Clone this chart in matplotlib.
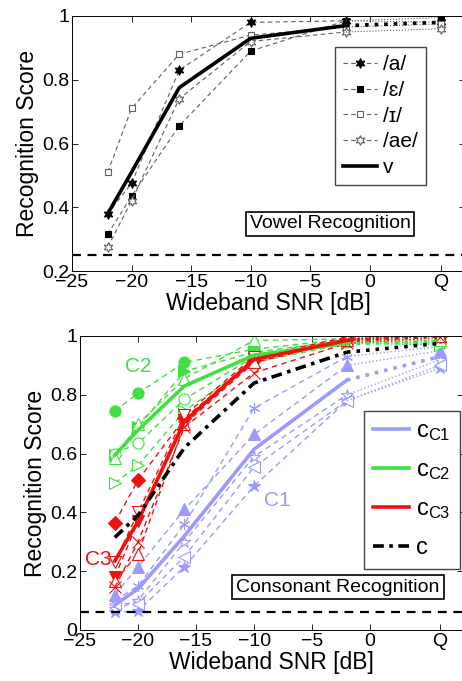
import matplotlib
matplotlib.use("Agg")
import matplotlib.pyplot as plt
from matplotlib.transforms import IdentityTransform

plt.rcParams["font.family"] = ["Liberation Sans", "DejaVu Sans"]
plt.rcParams["mathtext.fontset"] = "custom"
plt.rcParams["mathtext.rm"] = "Liberation Sans"
plt.rcParams["mathtext.it"] = "Liberation Sans:italic"

# SNR conditions, Q (quiet) drawn at +6 dB
snr = [-22, -20, -16, -10, -2, 6]
xtick_pos = [-25, -20, -15, -10, -5, 0, 6]
xtick_labels = ["\u221225", "\u221220", "\u221215", "\u221210", "\u22125", "0", "Q"]

# vowel recognition
vowel_a = [0.38, 0.475, 0.83, 0.98, 0.985, 0.98]
vowel_eh = [0.315, 0.435, 0.655, 0.89, 0.985, 0.995]
vowel_ih = [0.51, 0.71, 0.88, 0.94, 0.965, 0.975]
vowel_ae = [0.275, 0.42, 0.74, 0.92, 0.95, 0.96]
vowel_mean = [0.38, 0.51, 0.775, 0.93, 0.97, 0.98]
vowel_chance = 0.25

# consonant recognition, cluster C1
c1_star = [0.06, 0.065, 0.215, 0.49, 0.78, 0.89]
c1_tri = [0.12, 0.215, 0.41, 0.665, 0.90, 0.95]
c1_ast = [0.10, 0.15, 0.36, 0.755, 0.93, 0.965]
c1_ostar = [0.07, 0.10, 0.30, 0.59, 0.80, 0.92]
c1_otri = [0.09, 0.09, 0.25, 0.555, 0.78, 0.90]
c1_mean = [0.085, 0.14, 0.32, 0.615, 0.85, 0.93]
# cluster C2
c2_circ = [0.745, 0.805, 0.91, 0.955, 0.99, 0.985]
c2_tri = [0.595, 0.69, 0.88, 0.945, 0.985, 0.98]
c2_ocirc = [0.60, 0.635, 0.785, 0.93, 0.98, 0.975]
c2_otri = [0.50, 0.56, 0.745, 0.91, 0.975, 0.97]
c2_otriu = [0.585, 0.70, 0.855, 0.985, 0.99, 0.985]
c2_mean = [0.595, 0.68, 0.83, 0.935, 0.975, 0.98]
# cluster C3
c3_diam = [0.365, 0.51, 0.72, 0.92, 0.99, 1.0]
c3_trid = [0.18, 0.37, 0.715, 0.925, 0.99, 1.0]
c3_otrid = [0.23, 0.40, 0.73, 0.93, 0.995, 1.0]
c3_otriu = [0.165, 0.26, 0.70, 0.91, 0.985, 1.0]
c3_x = [0.145, 0.30, 0.69, 0.875, 0.975, 0.995]
c3_mean = [0.235, 0.37, 0.71, 0.92, 0.985, 1.0]
# all consonants
cons_mean = [0.315, 0.39, 0.62, 0.84, 0.945, 0.975]
cons_chance = 0.0625

BLUE = "#9a9aff"
GREEN = "#40e040"
RED = "#f01010"
HEX = (6, 1, 0)
DASH = (0, (4, 3))


def series(ax, y, color, lw, ls, marker=None, mfc=None, mec=None, ms=6, label=None):
    # dashed/solid over the SNR points, dotted to Q
    kw = dict(color=color, lw=lw, marker=marker, ms=ms,
              mfc=mfc if mfc is not None else color,
              mec=mec if mec is not None else color, mew=0.8)
    ax.plot(snr[:5], y[:5], ls=ls, label=label, **kw)
    ax.plot(snr[4:], y[4:], ls=":", markevery=[1], **kw)


def style_axes(ax, ylo, yticks, ylabels):
    ax.set_xlim(-25, 8)
    ax.set_ylim(ylo, 1)
    ax.set_xticks(xtick_pos)
    ax.set_xticklabels(xtick_labels)
    ax.set_yticks(yticks)
    ax.set_yticklabels(ylabels)
    ax.tick_params(direction="in", length=4, width=0.6, top=True, right=True,
                   labelsize=14, pad=2)
    for s in ax.spines.values():
        s.set_linewidth(0.7)
    ax.set_xlabel("Wideband SNR [dB]", fontsize=16.5, labelpad=1)
    ax.set_ylabel("Recognition Score", fontsize=16.5, labelpad=2)


def boxed(x, y, s):
    # position in pixels from the top-left corner
    fig.text(x, 681 - y, s, fontsize=14, ha="center", va="center",
             transform=IdentityTransform(),
             bbox=dict(boxstyle="square,pad=0.2", fc="white", ec="black", lw=1.2))


fig = plt.figure(figsize=(4.62, 6.81), dpi=100)

# ---- vowels
ax1 = fig.add_axes([72 / 462, 1 - 271 / 681, 393 / 462, 255 / 681])
gray = "#606060"
series(ax1, vowel_a, gray, 0.8, DASH, HEX, "black", "black", 7, "/a/")
series(ax1, vowel_eh, gray, 0.8, DASH, "s", "black", "black", 5, "/\u025b/")
series(ax1, vowel_ih, gray, 0.8, DASH, "s", "white", gray, 5, "/\u026a/")
series(ax1, vowel_ae, gray, 0.8, DASH, HEX, "white", gray, 7, "/ae/")
series(ax1, vowel_mean, "black", 2.6, "-", label="v")
ax1.axhline(vowel_chance, color="black", lw=1.6, ls=DASH)
style_axes(ax1, 0.2, [0.2, 0.4, 0.6, 0.8, 1.0], ["0.2", "0.4", "0.6", "0.8", "1"])
ax1.legend(loc="upper left", bbox_to_anchor=(335 / 462, 1 - 47 / 681),
           bbox_transform=fig.transFigure, fontsize=15, numpoints=1,
           handlelength=1.6, handletextpad=0.3, labelspacing=0.32,
           borderpad=0.4, borderaxespad=0, fancybox=False, framealpha=1,
           edgecolor="#444444")
boxed(330, 224, "Vowel Recognition")

# ---- consonants
ax2 = fig.add_axes([80 / 462, 51 / 681, 383 / 462, 294 / 681])
series(ax2, c1_star, BLUE, 1.0, DASH, "*", ms=9)
series(ax2, c1_tri, BLUE, 1.0, DASH, "^", ms=8)
series(ax2, c1_ast, BLUE, 1.0, DASH, (6, 2, 0), ms=8)
series(ax2, c1_ostar, BLUE, 1.0, DASH, "*", mfc="white", ms=9)
series(ax2, c1_otri, BLUE, 1.0, DASH, "<", mfc="white", ms=8)
series(ax2, c2_circ, GREEN, 1.0, DASH, "o", ms=8)
series(ax2, c2_tri, GREEN, 1.0, DASH, ">", ms=8)
series(ax2, c2_ocirc, GREEN, 1.0, DASH, "o", mfc="white", ms=8)
series(ax2, c2_otri, GREEN, 1.0, DASH, ">", mfc="white", ms=8)
series(ax2, c2_otriu, GREEN, 1.0, DASH, "^", mfc="white", ms=8)
series(ax2, c3_diam, RED, 1.0, DASH, "D", ms=7)
series(ax2, c3_trid, RED, 1.0, DASH, "v", ms=8)
series(ax2, c3_otrid, RED, 1.0, DASH, "v", mfc="white", ms=8)
series(ax2, c3_otriu, RED, 1.0, DASH, "^", mfc="white", ms=8)
series(ax2, c3_x, RED, 1.0, DASH, "x", ms=8)
series(ax2, c1_mean, BLUE, 2.6, "-", label=r"c$_\mathrm{C1}$")
series(ax2, c2_mean, GREEN, 2.6, "-", label=r"c$_\mathrm{C2}$")
series(ax2, c3_mean, RED, 2.6, "-", label=r"c$_\mathrm{C3}$")
series(ax2, cons_mean, "black", 2.6, (0, (3, 1.5, 1, 1.5)), label="c")
ax2.axhline(cons_chance, color="black", lw=1.6, ls=DASH)
style_axes(ax2, 0, [0, 0.2, 0.4, 0.6, 0.8, 1.0], ["0", "0.2", "0.4", "0.6", "0.8", "1"])
ax2.legend(loc="upper left", bbox_to_anchor=(364 / 462, 1 - 411 / 681),
           bbox_transform=fig.transFigure, fontsize=17, handlelength=1.5,
           handletextpad=0.3, labelspacing=0.68, borderpad=0.4,
           borderaxespad=0, fancybox=False, framealpha=1, edgecolor="#444444")
ax2.text(-20.0, 0.895, "C2", color=GREEN, fontsize=15, ha="center", va="center")
ax2.text(-22.3, 0.24, "C3", color=RED, fontsize=15, ha="right", va="center")
ax2.text(-8.0, 0.44, "C1", color=BLUE, fontsize=15, ha="center", va="center")
boxed(338, 587, "Consonant Recognition")

fig.savefig("out.png", dpi=100)
